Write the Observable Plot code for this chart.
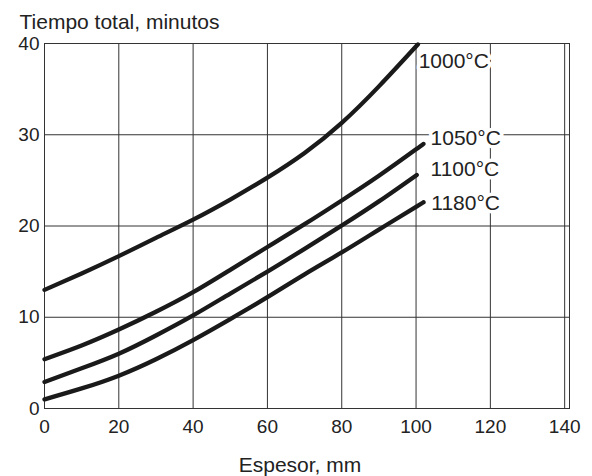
<!DOCTYPE html>
<html>
<head>
<meta charset="utf-8">
<script src="https://cdn.jsdelivr.net/npm/d3@7"></script>
<script src="https://cdn.jsdelivr.net/npm/@observablehq/plot@0.6"></script>
<style>
  html, body { margin: 0; padding: 0; background: white; }
</style>
</head>
<body>
<div id="chart"></div>
<script>
const xTicks = [0, 20, 40, 60, 80, 100, 120, 140];
const yTicks = [0, 10, 20, 30, 40];

const x1000 = [0, 10, 20, 30, 40, 50, 60, 70, 80, 90, 100.5];
const t1000 = [13.0, 14.8, 16.7, 18.7, 20.7, 22.9, 25.3, 28.0, 31.3, 35.3, 39.9];

const x1050 = [0, 10, 20, 30, 40, 50, 60, 70, 80, 90, 100, 102];
const t1050 = [5.4, 6.9, 8.65, 10.6, 12.75, 15.2, 17.7, 20.2, 22.8, 25.5, 28.4, 29.0];

const x1100 = [0, 10, 20, 30, 40, 50, 60, 70, 80, 90, 100.2];
const t1100 = [2.9, 4.4, 6.0, 8.0, 10.2, 12.6, 15.0, 17.5, 20.05, 22.7, 25.6];

const x1180 = [0, 10, 20, 30, 40, 50, 60, 70, 80, 90, 100, 102];
const t1180 = [1.0, 2.2, 3.6, 5.4, 7.5, 9.8, 12.2, 14.7, 17.1, 19.6, 22.1, 22.6];

const labels = ["1000°C", "1050°C", "1100°C", "1180°C"];
const labelX = [100.7, 103.9, 103.9, 104.1];
const labelY = [38.1, 29.6, 26.2, 22.5];

const series = [
  {name: labels[0], xs: x1000, ys: t1000},
  {name: labels[1], xs: x1050, ys: t1050},
  {name: labels[2], xs: x1100, ys: t1100},
  {name: labels[3], xs: x1180, ys: t1180}
];
const rows = series.flatMap(s => s.xs.map((x, i) => ({series: s.name, x, y: s.ys[i]})));
const labelRows = labels.map((l, i) => ({label: l, x: labelX[i], y: labelY[i]}));

const chart = Plot.plot({
  width: 592,
  height: 476,
  marginLeft: 44,
  marginRight: 23,
  marginTop: 43,
  marginBottom: 68,
  x: {domain: [0, 141.3]},
  y: {domain: [0, 40]},
  style: {fontFamily: "'Liberation Sans', Arial, sans-serif", fontSize: "19px", color: "#222", background: "white"},
  marks: [
    Plot.gridX(xTicks, {stroke: "#333", strokeOpacity: 1, strokeWidth: 1}),
    Plot.gridY(yTicks, {stroke: "#333", strokeOpacity: 1, strokeWidth: 1}),
    Plot.frame({stroke: "#333", strokeWidth: 1}),
    Plot.axisX(xTicks, {tickSize: 0, tickPadding: 11, label: null, fontSize: 19, fill: "#222"}),
    Plot.axisY(yTicks, {tickSize: 0, tickPadding: 5, label: null, fontSize: 19, fill: "#222"}),
    Plot.text(labelRows, {x: "x", y: "y", text: "label", textAnchor: "start", lineAnchor: "middle",
      fontSize: 21, fill: "#222", stroke: "white", strokeWidth: 7}),
    Plot.line(rows, {x: "x", y: "y", z: "series", stroke: "#1a1a1a", strokeWidth: 4.3, curve: "natural"}),
    Plot.text(["Tiempo total, minutos"], {frameAnchor: "top-left", dx: -25, dy: -15, lineAnchor: "bottom",
      textAnchor: "start", fontSize: 21, fill: "#222"}),
    Plot.text(["Espesor, mm"], {frameAnchor: "bottom", dx: -7, dy: 63, lineAnchor: "bottom",
      fontSize: 21, fill: "#222"})
  ]
});
document.getElementById("chart").appendChild(chart);
</script>
</body>
</html>
